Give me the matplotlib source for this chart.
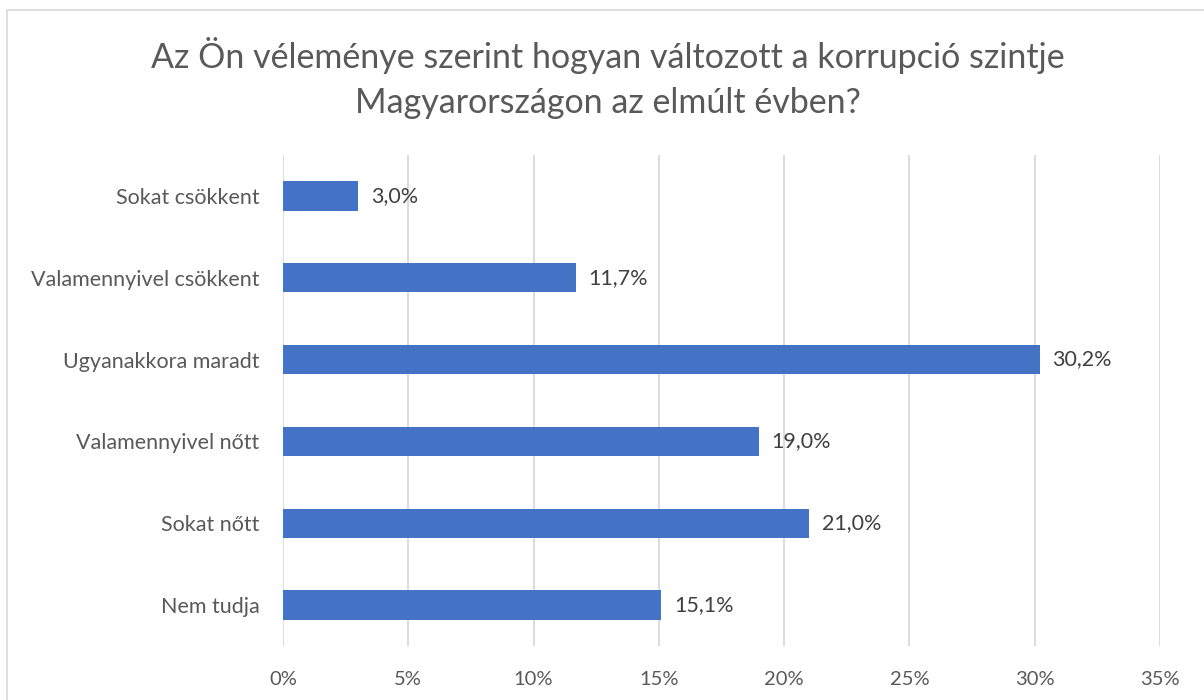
import matplotlib.pyplot as plt
from matplotlib.patches import Rectangle

categories = ["Sokat csökkent", "Valamennyivel csökkent", "Ugyanakkora maradt",
              "Valamennyivel nőtt", "Sokat nőtt", "Nem tudja"]
values = [3.0, 11.7, 30.2, 19.0, 21.0, 15.1]
xticks = [0, 5, 10, 15, 20, 25, 30, 35]

plt.rcParams['font.family'] = ['Lato', 'DejaVu Sans']
grey = '#595959'

fig = plt.figure(figsize=(12.04, 7), dpi=100, facecolor='white')
# chart border
fig.patches.append(Rectangle((7/1204, -0.01), 1.0, 1 - 10/700 + 0.01,
                             transform=fig.transFigure, fill=False,
                             edgecolor='#D9D9D9', linewidth=1.2))

ax = fig.add_axes([283/1204, 1 - 646/700, (1160 - 283)/1204, (646 - 155)/700])
y = range(len(categories))
ax.barh(y, values, height=0.36, color='#4472C4', zorder=3)
for i, v in enumerate(values):
    ax.text(v + 0.5, i, f"{v:.1f}%".replace('.', ','), va='center', ha='left',
            fontsize=15.5, color='#404040')

ax.set_ylim(len(categories) - 0.5, -0.5)
ax.set_xlim(0, 35)
ax.set_yticks(list(y))
ax.set_yticklabels(categories, fontsize=15.5, color=grey)
ax.set_xticks(xticks)
ax.set_xticklabels([f"{t}%" for t in xticks], fontsize=14.5, color=grey)
ax.tick_params(length=0)
ax.tick_params(axis='y', pad=17)
ax.tick_params(axis='x', pad=18)
ax.grid(axis='x', color='#D9D9D9', linewidth=1.3, zorder=0)
for s in ax.spines.values():
    s.set_visible(False)

fig.text(608/1204, 1 - 78/700,
         "Az Ön véleménye szerint hogyan változott a korrupció szintje\nMagyarországon az elmúlt évben?",
         ha='center', va='center', fontsize=24.5, color=grey, linespacing=1.5)

fig.savefig('out.png', dpi=100, facecolor='white')
